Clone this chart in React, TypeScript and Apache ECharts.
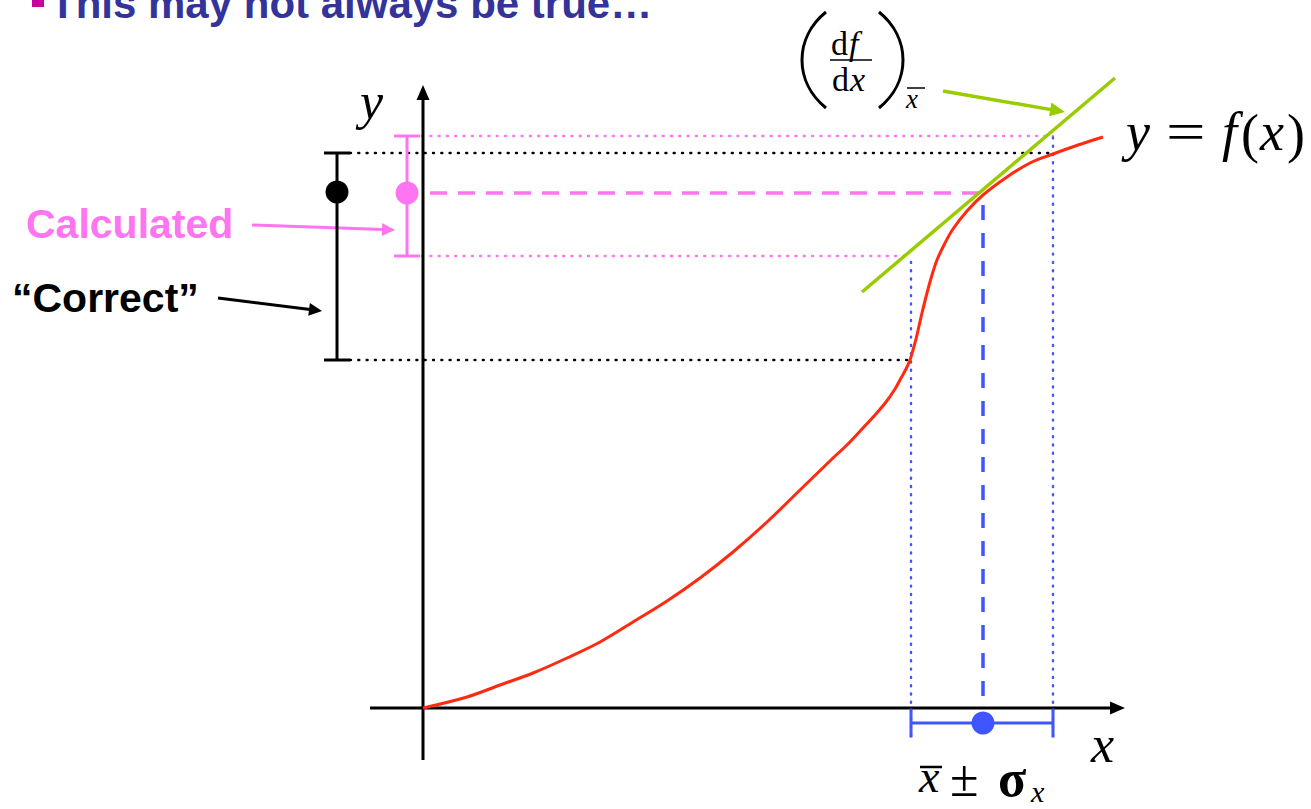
import React, { useEffect, useRef } from "react";
import * as echarts from "echarts";

// Diagram units: origin where the axes cross, x to the right, y upwards.
const curveX = [0, 44, 77, 110, 144, 177, 210, 244, 277, 310, 344, 377, 410, 425, 439, 452, 463, 472, 478, 483, 487, 490, 493, 496, 499, 504, 509, 514, 522, 530, 544, 560, 584, 607, 630, 655, 680];
const curveY = [0, 11, 23, 35, 50, 66, 86, 107, 130, 156, 186, 218, 250, 264, 279, 293, 306, 319, 330, 339, 348, 358, 369, 382, 395, 415, 433, 448, 465, 479, 497, 513, 531, 545, 554, 563, 571];

const tangentX = [439, 692];
const tangentY = [416, 630];

// x̄ ± σx
const xBar = 560;
const xLow = 488;
const xHigh = 630;
const xBarRowY = -15;

// "Correct" y interval
const correctMid = 516;
const correctLow = 348;
const correctHigh = 555;
const correctBarX = -86;

// "Calculated" y interval
const calcMid = 515;
const calcLow = 452;
const calcHigh = 572;
const calcBarX = -16;

// axes and pointer arrows: [x1, y1, x2, y2]
const axisArrows = [
  [0, -52, 0, 623],
  [-53, 0, 702, 0],
];
const calcArrow = [-171, 483, -28, 478];
const correctArrow = [-205, 410, -101, 397];
const slopeArrow = [520, 617, 642, 596];

const guideLeftBlack = -73;
const guideLeftPink = -1;
const guideBottomBlue = -28;
const dashStartPink = 7;
const dashTopBlue = 503;
const dashBottomBlue = 6;

const RED = "#ff2a10";
const GREEN = "#99cc00";
const PINK = "#ff74f0";
const BLUE = "#3f55ff";
const BLACK = "#000000";

const SANS = "'Liberation Sans', Arial, sans-serif";
const SERIF = "'Liberation Serif', 'Times New Roman', serif";

function arrowRender(color: string, width: number, headLen: number, headHalf: number) {
  return (_params: any, api: any) => {
    const p1 = api.coord([api.value(0), api.value(1)]);
    const p2 = api.coord([api.value(2), api.value(3)]);
    const dx = p2[0] - p1[0];
    const dy = p2[1] - p1[1];
    const len = Math.hypot(dx, dy);
    const ux = dx / len;
    const uy = dy / len;
    const bx = p2[0] - ux * headLen;
    const by = p2[1] - uy * headLen;
    return {
      type: "group",
      children: [
        {
          type: "line",
          shape: { x1: p1[0], y1: p1[1], x2: bx + ux * 1, y2: by + uy * 1 },
          style: { stroke: color, lineWidth: width },
        },
        {
          type: "polygon",
          shape: {
            points: [
              [p2[0], p2[1]],
              [bx - uy * headHalf, by + ux * headHalf],
              [bx + uy * headHalf, by - ux * headHalf],
            ],
          },
          style: { fill: color },
        },
      ],
    };
  };
}

function errorBarRender(color: string, vertical: boolean, capHalf: number, r: number) {
  return (_params: any, api: any) => {
    const pos = api.value(0);
    const lo = api.value(1);
    const hi = api.value(2);
    const mid = api.value(3);
    const a = vertical ? api.coord([pos, lo]) : api.coord([lo, pos]);
    const b = vertical ? api.coord([pos, hi]) : api.coord([hi, pos]);
    const c = vertical ? api.coord([pos, mid]) : api.coord([mid, pos]);
    const cap = (p: number[]) =>
      vertical
        ? { type: "line", shape: { x1: p[0] - capHalf, y1: p[1], x2: p[0] + capHalf, y2: p[1] }, style: { stroke: color, lineWidth: 3 } }
        : { type: "line", shape: { x1: p[0], y1: p[1] - capHalf, x2: p[0], y2: p[1] + capHalf }, style: { stroke: color, lineWidth: 3 } };
    return {
      type: "group",
      children: [
        { type: "line", shape: { x1: a[0], y1: a[1], x2: b[0], y2: b[1] }, style: { stroke: color, lineWidth: 3 } },
        cap(a),
        cap(b),
        { type: "circle", shape: { cx: c[0], cy: c[1], r }, style: { fill: color } },
      ],
    };
  };
}

function txt(text: string, x: number, baseline: number, size: number, opts: any = {}) {
  const serif = opts.serif;
  const k = serif ? 0.337 : 0.347;
  const el: any = {
    type: "text",
    x,
    y: baseline - k * size,
    z: 10,
    style: {
      text,
      fontSize: size,
      fontFamily: serif ? SERIF : SANS,
      fontStyle: opts.italic ? "italic" : "normal",
      fontWeight: opts.bold ? "bold" : "normal",
      fill: opts.color || BLACK,
      verticalAlign: "middle",
      textAlign: opts.align || "left",
      lineHeight: size,
    },
  };
  if (opts.scaleX) el.scaleX = opts.scaleX;
  return el;
}

function seg(x1: number, y1: number, x2: number, y2: number) {
  return { coords: [[x1, y1], [x2, y2]] };
}

export default function App() {
  const ref = useRef<HTMLDivElement>(null);

  useEffect(() => {
    if (!ref.current) return;
    const chart = echarts.init(ref.current, undefined, { renderer: "svg" });

    const dotted = (color: string, data: any[]) => ({
      type: "lines",
      coordinateSystem: "cartesian2d",
      polyline: false,
      silent: true,
      symbol: "none",
      data,
      lineStyle: { color, width: 2.4, type: [1, 7.3], cap: "round", opacity: 1, curveness: 0 },
    });
    const dashed = (color: string, data: any[], dash: number[]) => ({
      type: "lines",
      coordinateSystem: "cartesian2d",
      polyline: false,
      silent: true,
      symbol: "none",
      data,
      lineStyle: { color, width: 3.5, type: dash, opacity: 1, curveness: 0 },
    });

    const option: any = {
      animation: false,
      grid: { left: 0, right: 0, top: 0, bottom: 0 },
      xAxis: { type: "value", min: -423, max: 888, show: false },
      yAxis: { type: "value", min: -101, max: 708, show: false },
      series: [
        dotted(BLACK, [seg(guideLeftBlack, correctHigh, xHigh, correctHigh), seg(guideLeftBlack, correctLow, xLow, correctLow)]),
        dotted(PINK, [seg(guideLeftPink, calcHigh, xHigh, calcHigh), seg(guideLeftPink, calcLow, xLow, calcLow)]),
        dotted(BLUE, [seg(xLow, guideBottomBlue, xLow, calcLow), seg(xHigh, guideBottomBlue, xHigh, calcHigh)]),
        dashed(PINK, [seg(dashStartPink, calcMid, xBar, calcMid)], [17, 11]),
        dashed(BLUE, [seg(xBar, dashTopBlue, xBar, dashBottomBlue)], [15, 13]),
        {
          type: "line",
          data: curveX.map((x, i) => [x, curveY[i]]),
          smooth: 0.35,
          showSymbol: false,
          silent: true,
          lineStyle: { color: RED, width: 3 },
        },
        {
          type: "line",
          data: tangentX.map((x, i) => [x, tangentY[i]]),
          showSymbol: false,
          silent: true,
          lineStyle: { color: GREEN, width: 3.5 },
        },
        {
          type: "custom",
          renderItem: arrowRender(BLACK, 3, 15, 6.5),
          data: axisArrows,
          silent: true,
        },
        { type: "custom", renderItem: arrowRender(PINK, 3, 13, 6.5), data: [calcArrow], silent: true },
        { type: "custom", renderItem: arrowRender(BLACK, 3, 13, 6.5), data: [correctArrow], silent: true },
        { type: "custom", renderItem: arrowRender(GREEN, 3.5, 15, 7), data: [slopeArrow], silent: true },
        {
          type: "custom",
          renderItem: errorBarRender(BLACK, true, 13, 11.5),
          data: [[correctBarX, correctLow, correctHigh, correctMid]],
          silent: true,
        },
        {
          type: "custom",
          renderItem: errorBarRender(PINK, true, 13, 11.5),
          data: [[calcBarX, calcLow, calcHigh, calcMid]],
          silent: true,
        },
        {
          type: "custom",
          renderItem: errorBarRender(BLUE, false, 14.5, 11.5),
          data: [[xBarRowY, xLow, xHigh, xBar]],
          silent: true,
        },
      ],
      graphic: [
        { type: "rect", shape: { x: 32, y: -6, width: 12, height: 13 }, style: { fill: "#cc0099" } },
        txt("This may not always be true…", 50, 18, 42, { bold: true, color: "#333399" }),
        txt("Calculated", 26, 238, 41, { bold: true, color: PINK }),
        txt("“Correct”", 12, 312, 41, { bold: true }),
        // axis labels
        txt("y", 360, 119, 52, { serif: true, italic: true }),
        txt("x", 1091, 762, 52, { serif: true, italic: true }),
        // y = f(x)
        txt("y", 1126, 150, 54, { serif: true, italic: true }),
        txt("=", 1166, 150, 54, { serif: true, scaleX: 1.3 }),
        txt("f", 1222, 150, 54, { serif: true, italic: true }),
        txt("(", 1241, 152, 54, { serif: true }),
        txt("x", 1260, 150, 54, { serif: true, italic: true }),
        txt(")", 1287, 152, 54, { serif: true }),
        // (df/dx) at x̄
        { type: "bezierCurve", shape: { x1: 826, y1: 12, cpx1: 794, cpy1: 38, cpx2: 794, cpy2: 82, x2: 826, y2: 108 }, style: { stroke: BLACK, lineWidth: 3, fill: "none" } },
        { type: "bezierCurve", shape: { x1: 879, y1: 12, cpx1: 911, cpy1: 38, cpx2: 911, cpy2: 82, x2: 879, y2: 108 }, style: { stroke: BLACK, lineWidth: 3, fill: "none" } },
        txt("d", 831, 55, 34, { serif: true }),
        txt("f", 849, 55, 34, { serif: true, italic: true }),
        { type: "line", shape: { x1: 830, y1: 60, x2: 872, y2: 60 }, style: { stroke: BLACK, lineWidth: 1.5 } },
        txt("d", 832, 91, 34, { serif: true }),
        txt("x", 850, 91, 34, { serif: true, italic: true }),
        txt("x", 906, 108, 27, { serif: true, italic: true }),
        { type: "line", shape: { x1: 907, y1: 88, x2: 925, y2: 88 }, style: { stroke: BLACK, lineWidth: 1.5 } },
        // x̄ ± σx
        txt("x", 919, 792, 46, { serif: true, italic: true }),
        { type: "line", shape: { x1: 920, y1: 767, x2: 942, y2: 767 }, style: { stroke: BLACK, lineWidth: 2.5 } },
        txt("±", 950, 796, 52, { serif: true }),
        txt("σ", 998, 796, 52, { serif: true, bold: true }),
        txt("x", 1031, 802, 30, { serif: true, italic: true }),
      ],
    };

    chart.setOption(option);
    return () => chart.dispose();
  }, []);

  return (
    <div
      ref={ref}
      style={{ position: "fixed", left: 0, top: 0, width: 1311, height: 809, background: "#ffffff" }}
    />
  );
}
